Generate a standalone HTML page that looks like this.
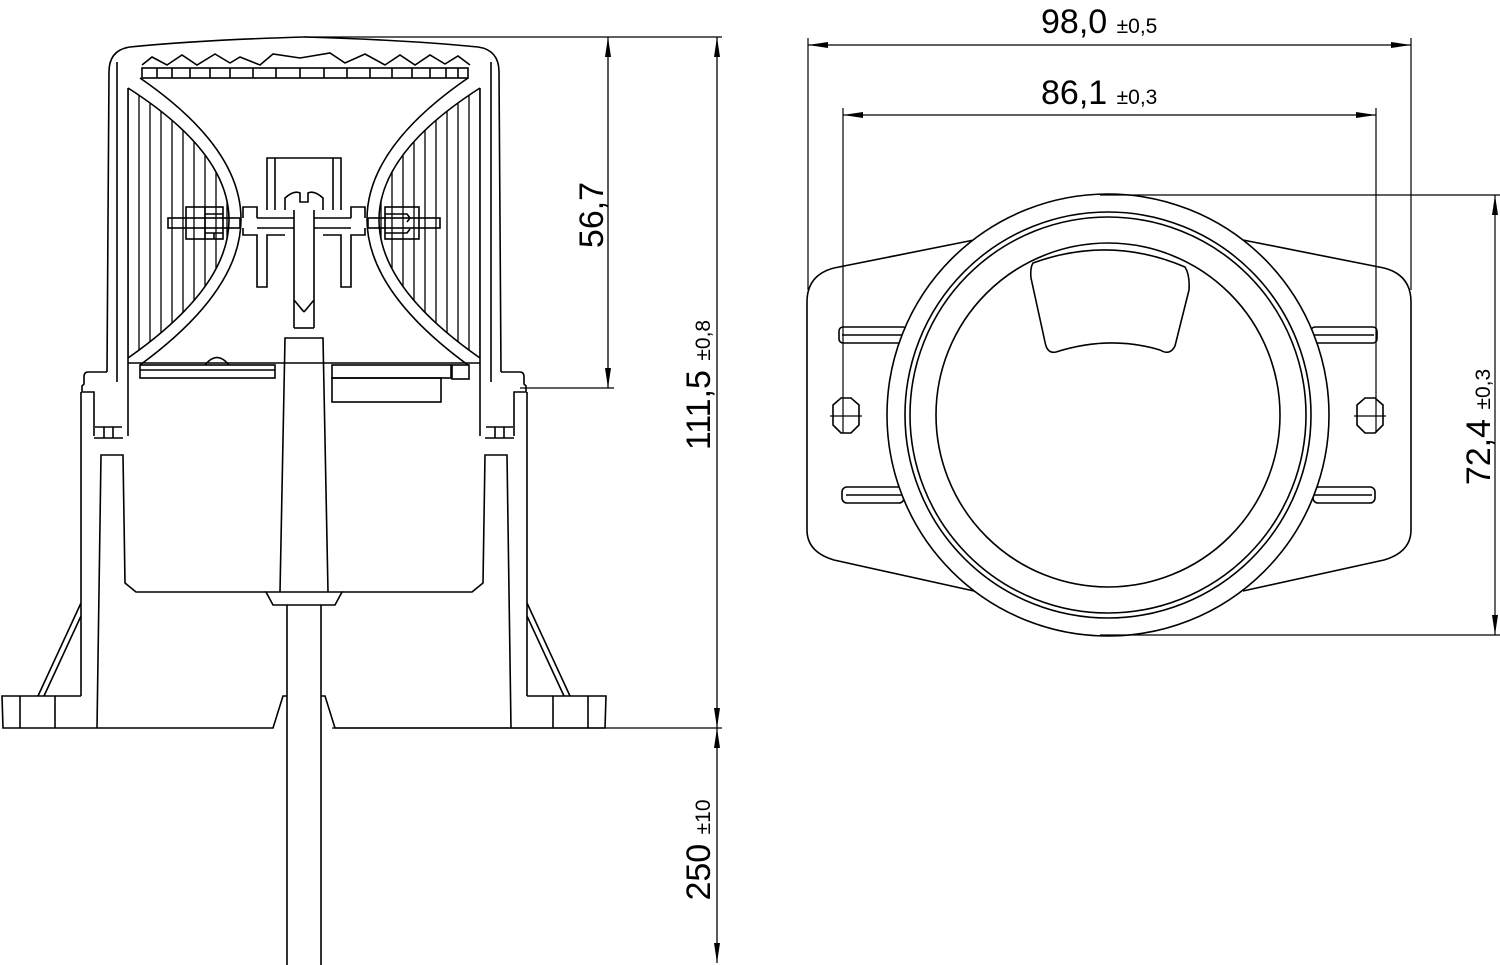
<!DOCTYPE html>
<html><head><meta charset="utf-8"><style>
html,body{margin:0;padding:0;background:#fff;}
svg{display:block;}
text{font-family:"Liberation Sans",sans-serif;fill:#000;}
</style></head><body>
<svg width="1500" height="965" viewBox="0 0 1500 965" xmlns="http://www.w3.org/2000/svg">
<defs>
<marker id="a" viewBox="0 0 20 6" refX="20" refY="3" markerWidth="20" markerHeight="6" markerUnits="userSpaceOnUse" orient="auto-start-reverse">
<path d="M0,0 L20,3 L0,6 Z" fill="#000"/></marker>
<pattern id="hatch" width="11" height="10" patternUnits="userSpaceOnUse" x="2">
<line x1="5" y1="0" x2="5" y2="10" stroke="#000" stroke-width="1.3"/></pattern>
<clipPath id="cl"><path d="M128,88 Q330,217 128,358 Z"/></clipPath>
<g id="half" fill="none" stroke="#000" stroke-width="1.6">
<path d="M304,37 Q200,40 130,47 Q109,50 109,72 L107,372"/>
<line x1="117" y1="62" x2="117" y2="382"/>
<line x1="128" y1="88" x2="128" y2="436"/>
<path d="M107,372 L88,372 Q84,372 84,377 L84,384 L82,386 L82,392 L94,392 L94,436"/>
<line x1="81" y1="392" x2="81" y2="696"/>
<path d="M94,438 L123,438 M95,427 L122,427 M104,427 L104,438 M113,427 L113,438"/>
<path d="M81,696 L2,696 L3,728 L273,728 L283,696 L287,696"/>
<line x1="20" y1="696" x2="20" y2="728"/><line x1="55" y1="696" x2="55" y2="728"/>
<path d="M81,603 L38,696 M81,616 L44,696"/>
<path d="M97,728 L101,455 L123,455 L125,583 L136,592 L266,592"/>
<path d="M128,88 Q330,217 128,358"/>
<path d="M140,78 Q342,217 140,365"/>
<line x1="128" y1="363" x2="304" y2="363"/>
<path d="M267,210 L267,158 L304,158"/>
<line x1="275" y1="158" x2="275" y2="210"/>
<path d="M243,218 L243,207 L257,207 L257,218 M243,228 L243,235 L257,235 L257,287 L267,287 L267,235 L285,235"/>
<rect x="168" y="218" width="72" height="10"/>
<line x1="257" y1="218" x2="294" y2="218"/><line x1="257" y1="228" x2="294" y2="228"/>
<path d="M285,210 L285,198 Q294,190 300,193 L300,202 L304,202"/>
<path d="M294,210 L294,300 L304,312"/>
<line x1="294" y1="300" x2="294" y2="328"/><line x1="294" y1="328" x2="304" y2="328"/>
<path d="M304,338 L285,338 L280,592"/>
<path d="M304,592 L266,592 L273,605 L304,605"/>
<line x1="287" y1="605" x2="287" y2="965"/>
</g>
</defs>

<g clip-path="url(#cl)"><rect x="120" y="80" width="130" height="290" fill="url(#hatch)"/></g>
<g transform="translate(608,0) scale(-1,1)"><g clip-path="url(#cl)"><rect x="120" y="80" width="130" height="290" fill="url(#hatch)"/></g></g>

<use href="#half"/>
<use href="#half" transform="translate(608,0) scale(-1,1)"/>

<g fill="none" stroke="#000" stroke-width="1.6">
<polyline points="142,65 152,57 167,65 182,55 197,65 215,54 230,63 240,57 260,65 273,54 300,58 330,53 345,63 365,54 385,65 400,55 415,65 430,55 445,64 458,56 470,65"/>
<rect x="142" y="68" width="326" height="10"/>
<path d="M157,68v10M172,68v10M190,68v10M210,68v10M230,68v10M253,68v10M276,68v10M300,68v10M324,68v10M347,68v10M370,68v10M392,68v10M412,68v10M430,68v10M446,68v10M458,68v10"/>
<rect x="186" y="207" width="37" height="32"/>
<path d="M205,207v32M205,214h18M205,233h18M214,233v6"/>
<rect x="385" y="207" width="34" height="32"/>
<path d="M385,214h22l3,4-3,4M385,233h22l3-4"/>
<rect x="140" y="365" width="135" height="13"/>
<line x1="140" y1="370" x2="275" y2="370"/>
<path d="M205,365 Q217,350 229,365"/>
<rect x="332" y="365" width="119" height="13"/>
<rect x="332" y="378" width="109" height="24"/>
<rect x="452" y="365" width="17" height="14"/>
</g>

<g stroke="#000" stroke-width="1.3" fill="none">
<line x1="304" y1="37" x2="722" y2="37"/>
<line x1="520" y1="388" x2="614" y2="388"/>
<line x1="332" y1="728" x2="722" y2="728"/>
<line x1="608" y1="37" x2="608" y2="388" marker-start="url(#a)" marker-end="url(#a)"/>
<line x1="717" y1="37" x2="717" y2="728" marker-start="url(#a)" marker-end="url(#a)"/>
<line x1="717" y1="728" x2="717" y2="963" marker-start="url(#a)" marker-end="url(#a)"/>
</g>
<text transform="translate(603,215) rotate(-90)" text-anchor="middle" font-size="34">56,7</text>
<text transform="translate(710,385) rotate(-90)" text-anchor="middle" font-size="34">111,5 <tspan font-size="21">±0,8</tspan></text>
<text transform="translate(710,850) rotate(-90)" text-anchor="middle" font-size="34">250 <tspan font-size="21">±10</tspan></text>

<g fill="none" stroke="#000" stroke-width="1.6">
<path d="M974,240 L834,268 Q807,275 807,302 L807,530 Q807,552 834,560 L974,591"/>
<path d="M1243,240 L1384,268 Q1411,275 1411,302 L1411,530 Q1411,552 1384,560 L1243,591"/>
<rect x="839" y="327" width="68" height="16" rx="4"/><line x1="842" y1="335" x2="907" y2="335"/>
<rect x="1311" y="327" width="66" height="16" rx="4"/><line x1="1311" y1="335" x2="1374" y2="335"/>
<rect x="842" y="487" width="62" height="16" rx="5"/><line x1="846" y1="495" x2="904" y2="495"/>
<rect x="1313" y="487" width="62" height="16" rx="5"/><line x1="1313" y1="495" x2="1372" y2="495"/>
<circle cx="1108" cy="415" r="221" fill="#fff"/>
<circle cx="1108" cy="415" r="203"/>
<circle cx="1108" cy="415" r="198"/>
<circle cx="1108" cy="415" r="172"/>
<path d="M1033,263 Q1110,235 1185,267 Q1190,275 1189,290 L1175,346 Q1170,356 1160,350 Q1110,335 1056,352 Q1047,354 1045,342 L1031,278 Q1030,268 1033,263 Z"/>
<polygon points="833,405 841,398 851,398 859,405 859,425 851,433 841,433 833,425"/>
<polygon points="1357,405 1365,398 1375,398 1383,405 1383,425 1375,433 1365,433 1357,425"/>
</g>
<g stroke="#000" stroke-width="1.2" fill="none">
<line x1="830" y1="416" x2="862" y2="416"/><line x1="1354" y1="416" x2="1386" y2="416"/>
<line x1="808" y1="38" x2="808" y2="290"/>
<line x1="1411" y1="38" x2="1411" y2="290"/>
<line x1="843" y1="108" x2="843" y2="433"/>
<line x1="1376" y1="108" x2="1376" y2="433"/>
<line x1="808" y1="45" x2="1411" y2="45" marker-start="url(#a)" marker-end="url(#a)"/>
<line x1="843" y1="115" x2="1376" y2="115" marker-start="url(#a)" marker-end="url(#a)"/>
<line x1="1100" y1="195" x2="1500" y2="195"/>
<line x1="1100" y1="635" x2="1500" y2="635"/>
<line x1="1495" y1="195" x2="1495" y2="635" marker-start="url(#a)" marker-end="url(#a)"/>
</g>
<text x="1041" y="33" font-size="34">98,0 <tspan font-size="21">±0,5</tspan></text>
<text x="1041" y="104" font-size="34">86,1 <tspan font-size="21">±0,3</tspan></text>
<text transform="translate(1490,427) rotate(-90)" text-anchor="middle" font-size="34">72,4 <tspan font-size="21">±0,3</tspan></text>
</svg>
</body></html>
